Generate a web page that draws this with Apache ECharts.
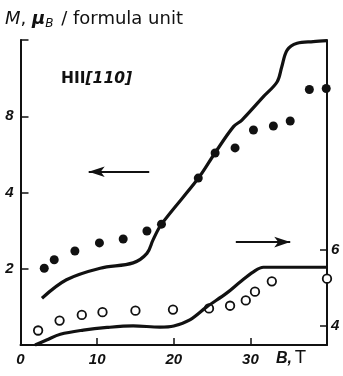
<!DOCTYPE html>
<html>
<head>
<meta charset="utf-8">
<script src="https://cdn.jsdelivr.net/npm/echarts@6/dist/echarts.min.js"></script>
<style>
  html, body { margin: 0; padding: 0; background: #fff; }
  #chart { width: 343px; height: 376px; }
</style>
</head>
<body>
<div id="chart"></div>
<script>
// Magnetization curves, H || [110]
// Upper pair (left, log2 axis): total moment M, µB / formula unit
const fieldUpperCurve  = [2.8, 6.0, 10.4, 14.7, 16.5, 17.3, 18.4, 23.2, 25.4, 27.8, 28.9, 31.7, 33.5, 34.1, 34.8, 36.1, 38.2, 40.0];
const momentUpperCurve = [1.53, 1.81, 2.01, 2.11, 2.3, 2.6, 3.0, 4.55, 5.74, 7.28, 7.73, 9.56, 10.95, 12.55, 14.6, 15.53, 15.76, 15.9];
const fieldUpperDots   = [3.1, 4.4, 7.1, 10.3, 13.4, 16.5, 18.4, 23.2, 25.4, 28.0, 30.4, 33.0, 35.2, 37.7, 39.9];
const momentUpperDots  = [2.01, 2.17, 2.35, 2.53, 2.62, 2.82, 3.0, 4.56, 5.73, 6.0, 7.06, 7.32, 7.66, 10.2, 10.3];

// Lower pair (right, linear axis)
const fieldLowerCurve  = [1.9, 3.4, 5.2, 8.2, 11.3, 14.7, 18.2, 20.0, 22.1, 24.3, 26.9, 28.7, 30.4, 31.7, 40.0];
const momentLowerCurve = [3.5, 3.63, 3.78, 3.89, 3.96, 4.0, 3.97, 4.0, 4.16, 4.5, 4.86, 5.16, 5.42, 5.54, 5.54];
const fieldLowerOpen   = [2.3, 5.1, 8.0, 10.7, 15.0, 19.9, 24.6, 27.35, 29.4, 30.6, 32.8, 40.0];
const momentLowerOpen  = [3.88, 4.14, 4.29, 4.36, 4.4, 4.43, 4.46, 4.53, 4.67, 4.9, 5.17, 5.24];

// Tick labels
const xTickLabels = [0, 10, 20, 30];
const leftTickLabels = [2, 4, 8];
const rightTickLabels = [4, 6];

const zip = (xs, ys) => xs.map((x, i) => [x, ys[i]]);

const labelFont = {
  fontFamily: 'Liberation Sans',
  fontWeight: 'bold',
  fontStyle: 'italic',
  fontSize: 15,
  color: '#111'
};
const axisLineStyle = { color: '#111', width: 2 };
const tickStyle = { color: '#111', width: 1.5 };

const arrowMark = (from, to) => ({
  silent: true,
  symbol: ['none', 'arrow'],
  symbolSize: [8, 16],
  label: { show: false },
  emphasis: { disabled: true },
  lineStyle: { color: '#111', width: 2, type: 'solid' },
  itemStyle: { color: '#111' },
  data: [[{ coord: from }, { coord: to }]]
});

const chart = echarts.init(document.getElementById('chart'), null, { renderer: 'canvas' });

chart.setOption({
  animation: false,
  backgroundColor: '#fff',
  grid: { left: 20.5, right: 16, top: 40, bottom: 31, containLabel: false, outerBoundsMode: 'none' },
  xAxis: {
    type: 'value', min: 0, max: 40, interval: 10,
    axisLine: { show: true, onZero: false, lineStyle: axisLineStyle },
    axisTick: { show: true, inside: true, length: 7, lineStyle: tickStyle, customValues: [10, 20, 30] },
    axisLabel: Object.assign({ margin: 7, customValues: xTickLabels,
      formatter: v => xTickLabels.includes(v) ? String(v) : '' }, labelFont),
    splitLine: { show: false }
  },
  yAxis: [
    {
      type: 'log', logBase: 2, min: 1, max: 16, position: 'left',
      axisLine: { show: true, onZero: false, lineStyle: axisLineStyle },
      axisTick: { show: true, inside: true, length: 8, lineStyle: tickStyle },
      axisLabel: Object.assign({ margin: 7,
        formatter: v => leftTickLabels.includes(Math.round(v)) ? String(Math.round(v)) : '' }, labelFont),
      splitLine: { show: false }
    },
    {
      type: 'value', min: 3.5, max: 11.5, position: 'right',
      axisLine: { show: true, onZero: false, lineStyle: axisLineStyle },
      axisTick: { show: true, inside: true, length: 7, lineStyle: tickStyle, customValues: rightTickLabels },
      axisLabel: Object.assign({ margin: 4, customValues: rightTickLabels,
        formatter: v => String(v) }, labelFont),
      splitLine: { show: false }
    }
  ],
  series: [
    {
      type: 'line', yAxisIndex: 0, data: zip(fieldUpperCurve, momentUpperCurve),
      symbol: 'none', smooth: 0.35, clip: false,
      lineStyle: { color: '#111', width: 3.2 },
      markLine: arrowMark([16.8, 4.83], [8.9, 4.83])
    },
    {
      type: 'scatter', yAxisIndex: 0, data: zip(fieldUpperDots, momentUpperDots),
      symbol: 'circle', symbolSize: 9, clip: false,
      itemStyle: { color: '#111', opacity: 1 }
    },
    {
      type: 'line', yAxisIndex: 1, data: zip(fieldLowerCurve, momentLowerCurve),
      symbol: 'none', smooth: 0.35, clip: false,
      lineStyle: { color: '#111', width: 3.2 },
      markLine: arrowMark([28.1, 6.2], [35.2, 6.2])
    },
    {
      type: 'scatter', yAxisIndex: 1, data: zip(fieldLowerOpen, momentLowerOpen),
      symbol: 'circle', symbolSize: 8.5, clip: false,
      itemStyle: { color: '#fff', borderColor: '#111', borderWidth: 1.8, opacity: 1 }
    }
  ],
  graphic: [
    {
      type: 'text', left: 5, top: 10,
      style: {
        text: '{i|M}{r|, }{mu|μ}{sub|B}{r| / formula unit}',
        rich: {
          r: { fontFamily: 'DejaVu Sans', fontSize: 18, fill: '#111' },
          i: { fontFamily: 'DejaVu Sans', fontStyle: 'italic', fontSize: 18, fill: '#111' },
          mu: { fontFamily: 'DejaVu Sans', fontStyle: 'italic', fontWeight: 'bold', fontSize: 18, fill: '#111' },
          sub: { fontFamily: 'DejaVu Sans', fontStyle: 'italic', fontSize: 12, fill: '#111', padding: [9, 2, 0, 0] }
        }
      }
    },
    {
      type: 'text', left: 61, top: 71,
      style: {
        text: '{a|HII}{b|[110]}',
        rich: {
          a: { fontFamily: 'DejaVu Sans', fontWeight: 'bold', fontSize: 15.5, fill: '#111' },
          b: { fontFamily: 'DejaVu Sans', fontWeight: 'bold', fontStyle: 'italic', fontSize: 15.5, fill: '#111' }
        }
      }
    },
    {
      type: 'text', left: 276, top: 350,
      style: {
        text: '{a|B,} {b|T}',
        rich: {
          a: { fontFamily: 'Liberation Sans', fontWeight: 'bold', fontStyle: 'italic', fontSize: 16, fill: '#111' },
          b: { fontFamily: 'DejaVu Sans', fontSize: 17, fill: '#111' }
        }
      }
    }
  ]
});
</script>
</body>
</html>
